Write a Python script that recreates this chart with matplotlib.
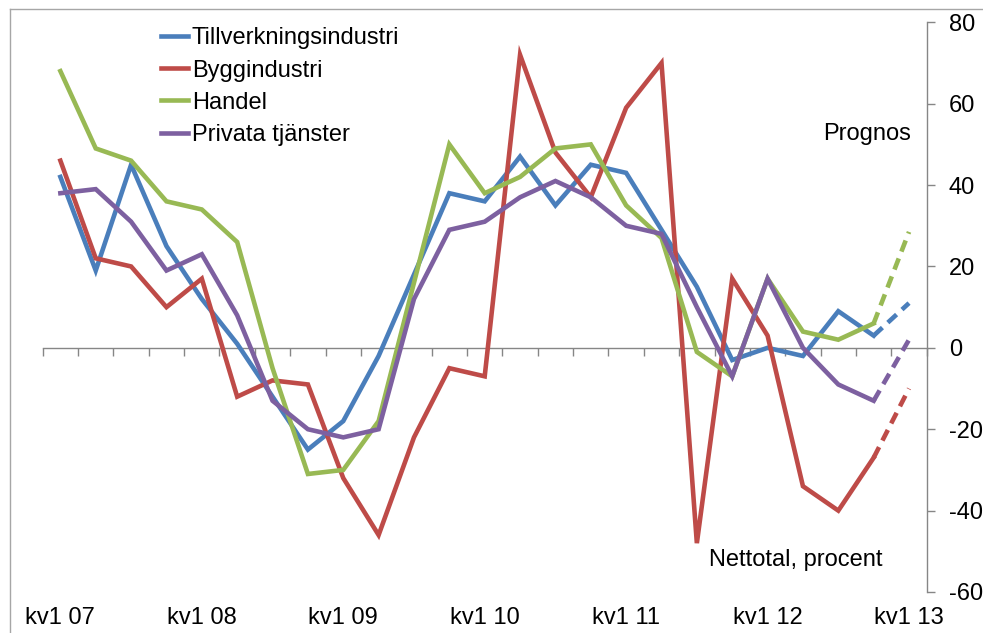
import numpy as np
import matplotlib
matplotlib.use("Agg")
import matplotlib.pyplot as plt
from matplotlib.lines import Line2D

plt.rcParams['font.family'] = ['Liberation Sans', 'DejaVu Sans']

quarters = ["kv%d %02d" % (q, y) for y in range(7, 14) for q in range(1, 5)][:25]

tillverkning = [42, 19, 45, 25, 12, 1, -12, -25, -18, -2, 18, 38, 36, 47, 35, 45, 43, 29, 15, -3, 0, -2, 9, 3]
bygg = [46, 22, 20, 10, 17, -12, -8, -9, -32, -46, -22, -5, -7, 72, 48, 37, 59, 70, -48, 17, 3, -34, -40, -27]
handel = [68, 49, 46, 36, 34, 26, -5, -31, -30, -18, 16, 50, 38, 42, 49, 50, 35, 27, -1, -7, 17, 4, 2, 6]
privata = [38, 39, 31, 19, 23, 8, -13, -20, -22, -20, 12, 29, 31, 37, 41, 37, 30, 28, 10, -7, 17, 0, -9, -13]

prognos = {"Tillverkningsindustri": 11, "Byggindustri": -10, "Handel": 28.5, "Privata tjänster": 2}

series = [
    ("Tillverkningsindustri", tillverkning, "#4A7EBB"),
    ("Byggindustri", bygg, "#BE4B48"),
    ("Handel", handel, "#98B954"),
    ("Privata tjänster", privata, "#7D60A0"),
]

yticks = list(range(-60, 81, 20))
ymin, ymax = -60, 80
FS = 17
GRAY = "#868686"

fig = plt.figure(figsize=(9.83, 6.33), dpi=100)
ax = fig.add_axes([42.7 / 983, 1 - 592 / 633, (926.7 - 42.7) / 983, (592 - 22.3) / 633])

lw = 3.3
for name, vals, col in series:
    x = np.arange(len(vals))
    ax.plot(x, vals, color=col, lw=lw, solid_joinstyle='miter', label=name)
    ax.plot([len(vals) - 1, len(vals)], [vals[-1], prognos[name]], color=col, lw=lw,
            linestyle=(0, (2.6, 1.6)), dash_capstyle='butt')

ax.set_xlim(-0.5, len(quarters) - 0.5)
ax.set_ylim(ymin, ymax)

for s in ["left", "top", "bottom"]:
    ax.spines[s].set_visible(False)
ax.spines["right"].set_color(GRAY)
ax.spines["right"].set_linewidth(1.0)

ax.yaxis.tick_right()
ax.set_yticks(yticks)
ax.set_yticklabels([str(v) for v in yticks])
ax.tick_params(axis='y', direction='out', length=6, color=GRAY, width=1.0, pad=10, labelsize=FS)

lab_idx = list(range(0, len(quarters), 4))
ax.set_xticks(lab_idx)
ax.set_xticklabels([quarters[i] for i in lab_idx])
ax.tick_params(axis='x', length=0, pad=11, labelsize=FS)

zero_loc = (0 - ymin) / (ymax - ymin)
sec = ax.secondary_xaxis(zero_loc)
sec.set_xticks(np.arange(-0.5, len(quarters), 1.0))
sec.set_xticklabels([])
sec.tick_params(axis='x', direction='out', length=6, color=GRAY, width=1.0)
sec.spines['bottom'].set_color(GRAY)
sec.spines['bottom'].set_linewidth(1.0)

ax.text(22.8, 52.6, "Prognos", fontsize=FS, ha='center', va='center')
ax.text(20.8, -52.2, "Nettotal, procent", fontsize=FS, ha='center', va='center')

leg = ax.legend(loc='upper left', bbox_to_anchor=(0.118, 1.016), frameon=False, fontsize=FS,
                handlelength=1.15, handletextpad=0.15, labelspacing=0.43, borderaxespad=0.2)

fig.add_artist(Line2D([9.5 / 983, 9.5 / 983], [0, 1 - 9 / 633], color="#A6A6A6", lw=1.0))
fig.add_artist(Line2D([9.5 / 983, 1], [1 - 9 / 633, 1 - 9 / 633], color="#A6A6A6", lw=1.0))

fig.savefig("out.png", dpi=100)
